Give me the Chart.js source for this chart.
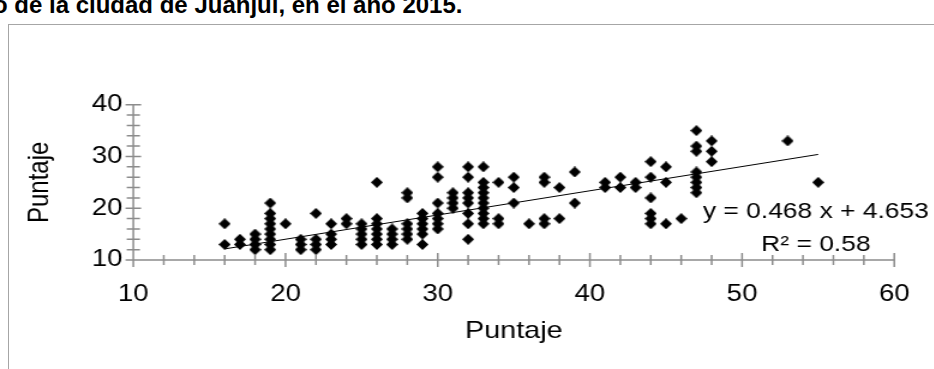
<!DOCTYPE html>
<html>
<head>
<meta charset="utf-8">
<script src="https://cdn.jsdelivr.net/npm/chart.js@4"></script>
<style>
  body { margin: 0; width: 934px; height: 369px; overflow: hidden; background: #fff; position: relative; }
  #box { position: absolute; left: 8px; top: 24px; width: 1000px; height: 500px; border: 1px solid #a6a6a6; }
  #title { position: absolute; left: -7px; top: -7px; font: bold 24px/24px "Liberation Sans", Arial, sans-serif; white-space: nowrap; color: #000; }
  /* the reference plot is horizontally stretched, so the chart drawing is too */
  #stretch { position: absolute; left: 0; top: 0; width: 779px; height: 369px; transform: scaleX(1.2); transform-origin: 0 0; }
  canvas { position: absolute; left: 0; top: 0; }
</style>
</head>
<body>
<div id="box"></div>
<div id="title">o de la ciudad de Juanjuí, en el año 2015.</div>
<div id="stretch">
  <canvas id="chart" width="779" height="369"></canvas>
</div>
<script>
// scores, one entry per point
const puntajeX = [
  16, 16,
  17, 17,
  18, 18, 18, 18,
  19, 19, 19, 19, 19, 19, 19, 19, 19,
  20,
  21, 21, 21,
  22, 22, 22, 22,
  23, 23, 23, 23,
  24, 24,
  25, 25, 25, 25, 25,
  26, 26, 26, 26, 26, 26, 26,
  27, 27, 27, 27,
  28, 28, 28, 28, 28, 28,
  29, 29, 29, 29, 29, 29,
  30, 30, 30, 30, 30, 30, 30,
  31, 31, 31, 31,
  32, 32, 32, 32, 32, 32, 32, 32,
  33, 33, 33, 33, 33, 33, 33, 33, 33, 33,
  34, 34, 34,
  35, 35, 35,
  36,
  37, 37, 37, 37,
  38, 38,
  39, 39,
  41, 41,
  42, 42,
  43, 43,
  44, 44, 44, 44, 44, 44,
  45, 45, 45,
  46,
  47, 47, 47, 47, 47, 47, 47, 47,
  48, 48, 48,
  53,
  55
];
const puntajeY = [
  13, 17,
  13, 14,
  12, 13, 14, 15,
  12, 13, 14, 15, 16, 17, 18, 19, 21,
  17,
  12, 13, 14,
  12, 13, 14, 19,
  13, 14, 15, 17,
  17, 18,
  13, 14, 15, 16, 17,
  13, 14, 15, 16, 17, 18, 25,
  13, 14, 15, 16,
  14, 15, 16, 17, 22, 23,
  13, 15, 16, 17, 18, 19,
  16, 17, 18, 19, 21, 26, 28,
  20, 21, 22, 23,
  14, 17, 19, 21, 22, 23, 26, 28,
  17, 18, 19, 20, 21, 22, 23, 24, 25, 28,
  17, 18, 25,
  21, 24, 26,
  17,
  17, 18, 25, 26,
  18, 24,
  21, 27,
  24, 25,
  24, 26,
  24, 25,
  17, 18, 19, 22, 26, 29,
  17, 25, 28,
  18,
  23, 24, 25, 26, 27, 31, 32, 35,
  29, 31, 33,
  33,
  25
];

// linear trendline as printed on the chart
const trendSlope = 0.468;
const trendIntercept = 4.653;
const trendFrom = 16;
const trendTo = 55;
const trendLabel = ['y = 0.468 x + 4.653', 'R² = 0.58'];

const xRange = [10, 60];
const yRange = [10, 40];
const axisTitle = 'Puntaje';

const FONT = '"Liberation Sans", Arial, sans-serif';
// narrow face so the stretched tick numbers keep their normal proportions
const TICK_FONT = '"Liberation Sans Narrow", "Liberation Sans", Arial, sans-serif';
const AXIS = '#8c8c8c';

// diamond marker (drawn narrower because the chart is stretched)
const diamond = document.createElement('canvas');
diamond.width = 10;
diamond.height = 11;
{
  const c = diamond.getContext('2d');
  c.fillStyle = '#000';
  c.beginPath();
  c.moveTo(5, 0);
  c.lineTo(10, 5.5);
  c.lineTo(5, 11);
  c.lineTo(0, 5.5);
  c.closePath();
  c.fill();
}

const points = puntajeX.map((x, i) => ({x: x, y: puntajeY[i]}));
const trend = [trendFrom, trendTo].map(x => ({x: x, y: trendSlope * x + trendIntercept}));

const axesPlugin = {
  id: 'excelAxes',
  beforeDatasetsDraw(chart) {
    const { ctx, chartArea, scales } = chart;
    const { x, y } = scales;
    const x0 = x.getPixelForValue(xRange[0]);
    const y0 = y.getPixelForValue(yRange[0]);
    ctx.save();
    ctx.strokeStyle = AXIS;
    ctx.lineWidth = 1.5;
    ctx.beginPath();
    ctx.moveTo(chartArea.left, y0);
    ctx.lineTo(chartArea.right, y0);
    ctx.moveTo(x0, chartArea.top);
    ctx.lineTo(x0, chartArea.bottom);
    for (let v = xRange[0]; v <= xRange[1]; v += 2) {
      const px = x.getPixelForValue(v);
      const len = v % 10 === 0 ? 7 : 5;
      ctx.moveTo(px, y0 - len);
      ctx.lineTo(px, y0 + len);
    }
    for (let v = yRange[0]; v <= yRange[1]; v += 2) {
      const py = y.getPixelForValue(v);
      const len = v % 10 === 0 ? 6.5 : 5.5;
      ctx.moveTo(x0 - len, py);
      ctx.lineTo(x0 + len, py);
    }
    ctx.stroke();
    ctx.restore();
  },
  afterDraw(chart) {
    const { ctx, chartArea, scales } = chart;
    const { x, y } = scales;
    ctx.save();
    ctx.fillStyle = '#000';
    ctx.font = '22px ' + FONT;
    ctx.textAlign = 'center';
    ctx.textBaseline = 'alphabetic';
    // trendline label
    const lx = x.getPixelForValue(54.85);
    ctx.fillText(trendLabel[0], lx, y.getPixelForValue(18.1));
    ctx.fillText(trendLabel[1], lx, y.getPixelForValue(11.8));
    // axis titles
    ctx.font = '24px ' + FONT;
    ctx.textBaseline = 'middle';
    ctx.fillText(axisTitle, (chartArea.left + chartArea.right) / 2, 331);
    ctx.translate(33.3, (chartArea.top + chartArea.bottom) / 2);
    ctx.rotate(-Math.PI / 2);
    ctx.fillText(axisTitle, 0, 0);
    ctx.restore();
  }
};

new Chart(document.getElementById('chart'), {
  type: 'scatter',
  data: {
    datasets: [
      {
        data: points,
        pointStyle: diamond,
        pointRadius: 5,
        pointHoverRadius: 5,
        backgroundColor: '#000',
        borderWidth: 0,
        order: 1,
      },
      {
        type: 'line',
        data: trend,
        borderColor: '#000',
        borderWidth: 1,
        pointRadius: 0,
        fill: false,
        order: 2,
      },
    ]
  },
  options: {
    responsive: false,
    animation: false,
    devicePixelRatio: 1,
    layout: { padding: { top: 104.7, right: 33.6, left: 0, bottom: 0 } },
    plugins: { legend: { display: false }, tooltip: { enabled: false } },
    scales: {
      x: {
        type: 'linear',
        min: xRange[0],
        max: xRange[1],
        border: { display: false },
        grid: { display: false, drawTicks: false },
        ticks: { stepSize: 10, padding: 21, color: '#000', font: { family: TICK_FONT, size: 23 } },
        afterFit(scale) { scale.height = 109; }
      },
      y: {
        min: yRange[0],
        max: yRange[1],
        border: { display: false },
        grid: { display: false, drawTicks: false },
        ticks: { stepSize: 10, padding: 9, color: '#000', font: { family: TICK_FONT, size: 23 } },
        afterFit(scale) { scale.width = 111.1; }
      }
    }
  },
  plugins: [axesPlugin]
});
</script>
</body>
</html>
